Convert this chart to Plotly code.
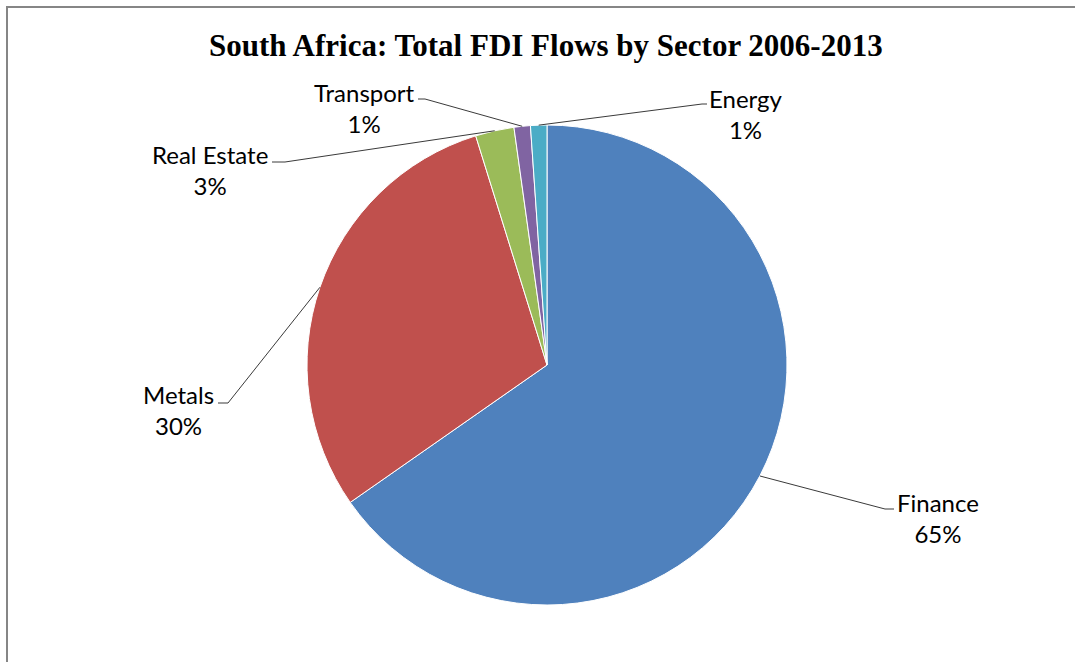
import math
import plotly.graph_objects as go

# ---- data ----
sectors = ["Finance", "Metals", "Real Estate", "Transport", "Energy"]
shares = [65.3, 29.9, 2.6, 1.1, 1.1]
title_text = "South Africa: Total FDI Flows by Sector 2006-2013"

# ---- styling / layout (pixels in a 1075x662 canvas) ----
W, H = 1075, 662
colors = ["#4F81BD", "#C0504D", "#9BBB59", "#8064A2", "#4BACC6"]
CX, CY, R = 547, 365, 240
# label block centers and leader-line elbow / end points
label_pos = {
    "Finance":     dict(center=(938, 518), elbow=(885, 509), end=(894, 509)),
    "Metals":      dict(center=(178, 410), elbow=(228, 403), end=(218, 403)),
    "Real Estate": dict(center=(210, 170), elbow=(285, 162), end=(272, 162)),
    "Transport":   dict(center=(364, 108), elbow=(425, 99), end=(418, 99)),
    "Energy":      dict(center=(746, 114), elbow=(702, 104), end=(707, 104)),
}
LABEL_FONT = dict(family="Lato", size=24, color="#000000")


def px(x):
    return x / W


def py(y):
    return 1 - y / H


fig = go.Figure(go.Pie(
    labels=sectors,
    values=shares,
    sort=False,
    direction="clockwise",
    rotation=0,
    textinfo="none",
    hoverinfo="label+percent",
    marker=dict(colors=colors, line=dict(color="#FFFFFF", width=1)),
    domain=dict(x=[px(CX - R), px(CX + R)], y=[py(CY + R), py(CY - R)]),
    showlegend=False,
))

total = sum(shares)
annotations = []
shapes = []
cum = 0.0
for name, v in zip(sectors, shares):
    mid = (cum + v / 2) / total * 2 * math.pi
    cum += v
    ex = CX + R * math.sin(mid)
    ey = CY - R * math.cos(mid)
    lp = label_pos[name]
    (bx, by), (qx, qy), (lx, ly) = lp["elbow"], lp["end"], lp["center"]
    shapes.append(dict(
        type="path", xref="paper", yref="paper",
        path=f"M {px(ex)},{py(ey)} L {px(bx)},{py(by)} L {px(qx)},{py(qy)}",
        line=dict(color="#3a3a3a", width=1),
    ))
    pct = int(v / total * 100 + 0.5)
    annotations.append(dict(
        x=px(lx), y=py(ly), xref="paper", yref="paper",
        text=f"{name}<br>{pct}%", showarrow=False,
        xanchor="center", yanchor="middle", align="center",
        font=LABEL_FONT,
    ))

annotations.append(dict(
    x=px(546), y=py(45), xref="paper", yref="paper",
    text=f"<b>{title_text}</b>", showarrow=False,
    xanchor="center", yanchor="middle",
    font=dict(family="Liberation Serif", size=31, color="#000000"),
))

# chart-area border (top and left visible, right/bottom beyond canvas)
shapes.append(dict(
    type="rect", xref="paper", yref="paper",
    x0=px(7), y0=py(H + 20), x1=px(W + 20), y1=py(7),
    line=dict(color="#868686", width=2), fillcolor="rgba(0,0,0,0)",
))

fig.update_layout(
    width=W, height=H,
    margin=dict(l=0, r=0, t=0, b=0, pad=0),
    paper_bgcolor="#FFFFFF",
    plot_bgcolor="#FFFFFF",
    annotations=annotations,
    shapes=shapes,
)

fig.write_html("out.html")
